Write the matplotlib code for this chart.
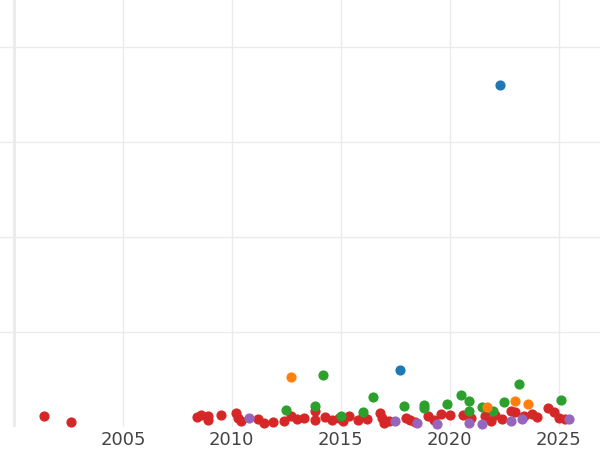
import matplotlib.pyplot as plt

blue_x=[2022.3,2017.7]; blue_y=[3.6,0.6]
orange_x=[2012.7,2021.7,2023.0,2023.6]; orange_y=[0.53,0.21,0.27,0.24]
green_x=[2012.5,2014.2,2013.8,2015.0,2016.0,2016.5,2017.9,2018.8,2018.8,2019.9,2020.5,2020.9,2020.9,2021.5,2022.0,2022.5,2023.2,2025.1]
green_y=[0.18,0.55,0.22,0.12,0.16,0.32,0.22,0.23,0.20,0.24,0.34,0.27,0.17,0.21,0.17,0.26,0.45,0.28]
purple_x=[2010.8,2017.5,2018.5,2019.4,2020.9,2021.5,2022.8,2023.3,2025.5]
purple_y=[0.09,0.06,0.04,0.03,0.04,0.03,0.06,0.08,0.08]
red_x=[2001.4,2002.6,2008.4,2008.6,2008.9,2008.9,2009.5,2010.2,2010.3,2010.4,2011.2,2011.5,2011.9,2012.4,2012.7,2013.0,2013.3,2013.8,2013.8,2014.3,2014.6,2014.9,2015.1,2015.4,2015.8,2016.0,2016.2,2016.8,2016.9,2017.0,2017.2,2018.0,2018.2,2018.4,2019.0,2019.3,2019.6,2020.0,2020.6,2021.0,2021.6,2021.9,2022.1,2022.4,2022.8,2023.0,2023.4,2023.8,2024.0,2024.5,2024.8,2025.0,2025.3]
red_y=[0.12,0.05,0.11,0.13,0.12,0.07,0.13,0.15,0.09,0.06,0.08,0.04,0.05,0.06,0.12,0.08,0.09,0.17,0.07,0.11,0.07,0.09,0.06,0.12,0.07,0.12,0.08,0.15,0.09,0.04,0.06,0.09,0.07,0.05,0.12,0.07,0.14,0.13,0.13,0.09,0.12,0.06,0.13,0.08,0.17,0.16,0.12,0.14,0.11,0.20,0.16,0.09,0.08]

fig=plt.figure(figsize=(6,4.5),dpi=100)
ax=fig.add_axes([0,0.051,1,0.949])
for xs,ys,c in [(red_x,red_y,'#d62728'),(green_x,green_y,'#2ca02c'),(purple_x,purple_y,'#9467bd'),(orange_x,orange_y,'#ff7f0e'),(blue_x,blue_y,'#1f77b4')]:
    ax.scatter(xs,ys,s=40,color=c,zorder=3,clip_on=False)
ax.set_xlim(1999.36,2026.9)
ax.set_ylim(0,4.49)
ax.set_xticks([2000,2005,2010,2015,2020,2025])
ax.set_xticklabels(['','2005','2010','2015','2020','2025'])
ax.set_yticks([1,2,3,4]); ax.set_yticklabels([])
ax.grid(True,color='#ebebeb',lw=1)
ax.axvline(2000,color='#ebebeb',lw=2)
for s in ax.spines.values(): s.set_visible(False)
ax.tick_params(length=0,labelsize=13,colors='#444444',pad=3)
fig.savefig('out.png')
